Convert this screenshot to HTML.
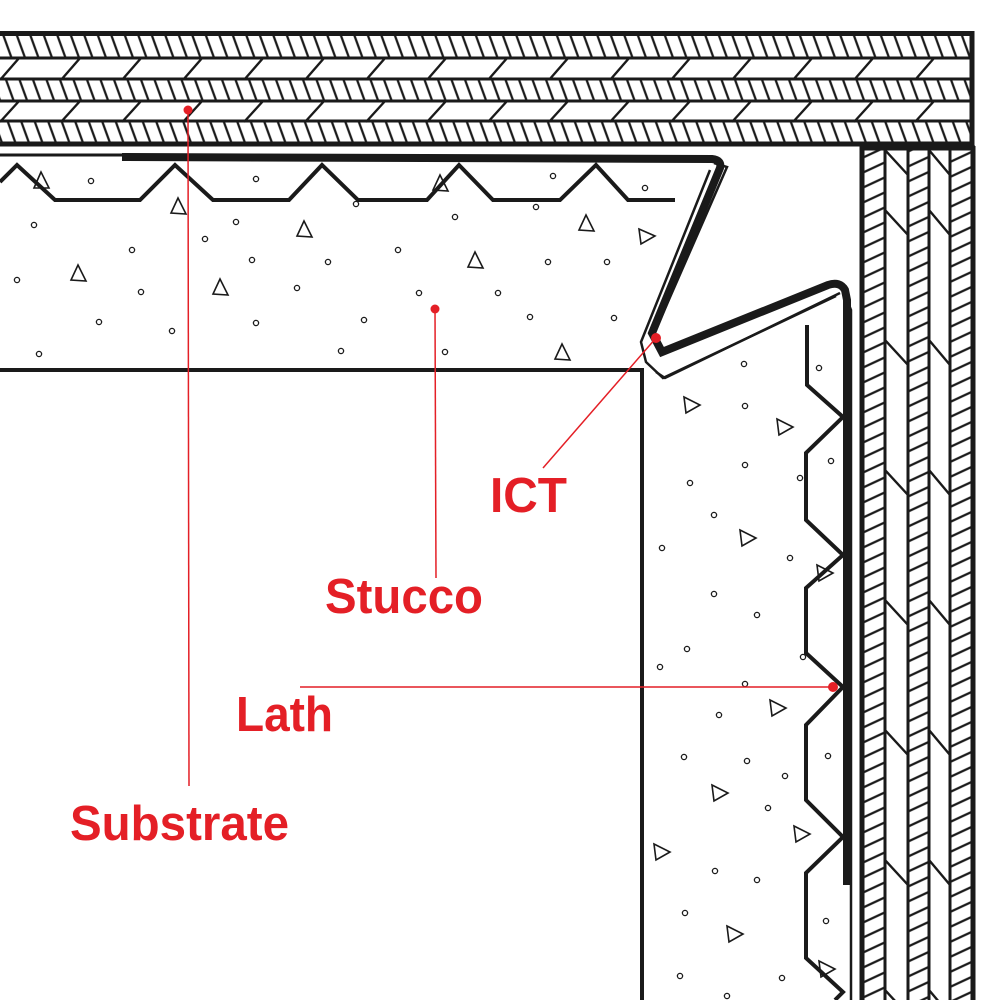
<!DOCTYPE html>
<html><head><meta charset="utf-8"><style>
html,body{margin:0;padding:0;background:#fff;}
svg{display:block;}
text{font-family:"Liberation Sans",sans-serif;font-weight:bold;fill:#e41f26;}
</style></head><body>
<svg width="1000" height="1000" viewBox="0 0 1000 1000" xmlns="http://www.w3.org/2000/svg">
<defs>
<pattern id="hh" x="0" y="0" width="13.5" height="100" patternUnits="userSpaceOnUse" patternTransform="skewX(20)">
<line x1="4" y1="0" x2="4" y2="100" stroke="#1a1a1a" stroke-width="2.4"/>
</pattern>
<pattern id="vh" x="0" y="0" width="100" height="15" patternUnits="userSpaceOnUse" patternTransform="skewY(-25)">
<line x1="0" y1="5" x2="100" y2="5" stroke="#1a1a1a" stroke-width="2.4"/>
</pattern>
<pattern id="hc" x="-4" y="0" width="61" height="200" patternUnits="userSpaceOnUse">
<line x1="24" y1="57" x2="4" y2="80" stroke="#1a1a1a" stroke-width="2.4"/>
<line x1="24" y1="100" x2="4" y2="122" stroke="#1a1a1a" stroke-width="2.4"/>
</pattern>
</defs>

<!-- top board -->
<rect x="0" y="57" width="972" height="66" fill="url(#hc)"/>
<rect x="0" y="79" width="972" height="22" fill="#fff"/>
<rect x="0" y="35" width="972" height="22" fill="url(#hh)"/>
<rect x="0" y="79" width="972" height="22" fill="url(#hh)"/>
<rect x="0" y="121" width="972" height="22" fill="url(#hh)"/>
<g stroke="#1a1a1a" fill="none">
<line x1="0" y1="33.5" x2="974" y2="33.5" stroke-width="5"/>
<line x1="0" y1="58" x2="972" y2="58" stroke-width="3"/>
<line x1="0" y1="79" x2="972" y2="79" stroke-width="3"/>
<line x1="0" y1="101" x2="972" y2="101" stroke-width="3"/>
<line x1="0" y1="121" x2="972" y2="121" stroke-width="3"/>
<line x1="0" y1="144" x2="974" y2="144" stroke-width="5"/>
<line x1="972" y1="31" x2="972" y2="146" stroke-width="5"/>
</g>

<!-- right board -->
<rect x="863" y="146" width="22" height="854" fill="url(#vh)"/>
<rect x="908" y="146" width="21" height="854" fill="url(#vh)"/>
<rect x="950" y="146" width="23" height="854" fill="url(#vh)"/>
<g stroke="#1a1a1a" stroke-width="2.4">
<line x1="885" y1="150" x2="908" y2="175"/>
<line x1="885" y1="210" x2="908" y2="235"/>
<line x1="885" y1="340" x2="908" y2="365"/>
<line x1="885" y1="470" x2="908" y2="495"/>
<line x1="885" y1="600" x2="908" y2="625"/>
<line x1="885" y1="730" x2="908" y2="755"/>
<line x1="885" y1="860" x2="908" y2="885"/>
<line x1="885" y1="990" x2="908" y2="1015"/>
<line x1="929" y1="150" x2="950" y2="175"/>
<line x1="929" y1="210" x2="950" y2="235"/>
<line x1="929" y1="340" x2="950" y2="365"/>
<line x1="929" y1="470" x2="950" y2="495"/>
<line x1="929" y1="600" x2="950" y2="625"/>
<line x1="929" y1="730" x2="950" y2="755"/>
<line x1="929" y1="860" x2="950" y2="885"/>
<line x1="929" y1="990" x2="950" y2="1015"/>
</g>
<g stroke="#1a1a1a" fill="none">
<line x1="862" y1="146" x2="862" y2="1000" stroke-width="5"/>
<line x1="885" y1="146" x2="885" y2="1000" stroke-width="3"/>
<line x1="908" y1="146" x2="908" y2="1000" stroke-width="3"/>
<line x1="929" y1="146" x2="929" y2="1000" stroke-width="3"/>
<line x1="950" y1="146" x2="950" y2="1000" stroke-width="3"/>
<line x1="973" y1="146" x2="973" y2="1000" stroke-width="5"/>
<line x1="860" y1="148" x2="975" y2="148" stroke-width="5"/>
</g>

<!-- stucco outlines -->
<g stroke="#1a1a1a" fill="none" stroke-linejoin="miter">
<line x1="0" y1="370" x2="642" y2="370" stroke-width="4"/>
<line x1="642" y1="368" x2="642" y2="1000" stroke-width="4"/>
<line x1="0" y1="155" x2="122" y2="155" stroke-width="3"/>
<polyline points="0,182 17,165 55,200 140,200 175,165 213,200 289,200 322,165 358,200 427,200 459,165 493,200 560,200 596,165 628,200 675,200" stroke-width="4"/>
<polyline points="807,325 807,385 843,417 806,453 806,520 843,555 806,588 806,653 843,687 806,725 806,800 843,837 806,873 806,958 843,992 835,1000" stroke-width="4"/>
<path d="M122,157 L712,159 Q722,160 720,168 L652,333 L662,352 L828,285 Q840,281 845,290 L847,300 L847,885" stroke-width="8"/>
<path d="M714,163 L727,167 L653,336 M710,170 L641,342 L646,362 L663,378 L836,296 M847,300 L851,310 L851,1000" stroke-width="2.5"/>
<path d="M656,372 L665,378 L840,293" stroke-width="2.5"/>
</g>

<g stroke="#1a1a1a" stroke-width="1.3" fill="#fff">
<circle cx="91" cy="181" r="2.6"/><circle cx="256" cy="179" r="2.6"/><circle cx="356" cy="204" r="2.6"/><circle cx="553" cy="176" r="2.6"/><circle cx="645" cy="188" r="2.6"/><circle cx="536" cy="207" r="2.6"/><circle cx="455" cy="217" r="2.6"/><circle cx="34" cy="225" r="2.6"/><circle cx="236" cy="222" r="2.6"/><circle cx="205" cy="239" r="2.6"/><circle cx="132" cy="250" r="2.6"/><circle cx="252" cy="260" r="2.6"/><circle cx="328" cy="262" r="2.6"/><circle cx="398" cy="250" r="2.6"/><circle cx="548" cy="262" r="2.6"/><circle cx="607" cy="262" r="2.6"/><circle cx="17" cy="280" r="2.6"/><circle cx="141" cy="292" r="2.6"/><circle cx="297" cy="288" r="2.6"/><circle cx="419" cy="293" r="2.6"/><circle cx="498" cy="293" r="2.6"/><circle cx="99" cy="322" r="2.6"/><circle cx="172" cy="331" r="2.6"/><circle cx="256" cy="323" r="2.6"/><circle cx="364" cy="320" r="2.6"/><circle cx="530" cy="317" r="2.6"/><circle cx="614" cy="318" r="2.6"/><circle cx="39" cy="354" r="2.6"/><circle cx="341" cy="351" r="2.6"/><circle cx="445" cy="352" r="2.6"/>
<circle cx="744" cy="364" r="2.6"/><circle cx="819" cy="368" r="2.6"/><circle cx="745" cy="406" r="2.6"/><circle cx="745" cy="465" r="2.6"/><circle cx="831" cy="461" r="2.6"/><circle cx="690" cy="483" r="2.6"/><circle cx="800" cy="478" r="2.6"/><circle cx="714" cy="515" r="2.6"/><circle cx="662" cy="548" r="2.6"/><circle cx="790" cy="558" r="2.6"/><circle cx="714" cy="594" r="2.6"/>
<circle cx="757" cy="615" r="2.6"/><circle cx="687" cy="649" r="2.6"/><circle cx="660" cy="667" r="2.6"/><circle cx="803" cy="657" r="2.6"/><circle cx="745" cy="684" r="2.6"/><circle cx="719" cy="715" r="2.6"/><circle cx="684" cy="757" r="2.6"/><circle cx="747" cy="761" r="2.6"/><circle cx="785" cy="776" r="2.6"/><circle cx="828" cy="756" r="2.6"/><circle cx="768" cy="808" r="2.6"/><circle cx="715" cy="871" r="2.6"/><circle cx="757" cy="880" r="2.6"/><circle cx="685" cy="913" r="2.6"/><circle cx="826" cy="921" r="2.6"/><circle cx="680" cy="976" r="2.6"/><circle cx="782" cy="978" r="2.6"/><circle cx="727" cy="996" r="2.6"/>
</g>
<g stroke="#1a1a1a" stroke-width="1.6" fill="none">
<path d="M41,172 L34,188 L49,188 Z"/><path d="M178,198 L171,213 L186,214 Z"/><path d="M304,221 L297,236 L312,237 Z"/><path d="M440,175 L433,190 L448,191 Z"/><path d="M586,215 L579,230 L594,231 Z"/><path d="M475,252 L468,267 L483,268 Z"/><path d="M78,265 L71,280 L86,281 Z"/><path d="M220,279 L213,294 L228,295 Z"/><path d="M562,344 L555,359 L570,360 Z"/>
<path d="M639,229 L655,236 L641,244 Z"/>
<path d="M684,397 L700,405 L686,413 Z"/><path d="M777,419 L793,427 L779,435 Z"/><path d="M740,530 L756,538 L742,546 Z"/><path d="M817,565 L833,573 L819,581 Z"/>
<path d="M770,700 L786,708 L772,716 Z"/><path d="M712,785 L728,793 L714,801 Z"/><path d="M794,826 L810,834 L796,842 Z"/><path d="M654,844 L670,852 L656,860 Z"/><path d="M727,926 L743,934 L729,942 Z"/><path d="M819,961 L835,969 L821,977 Z"/>
</g>

<g stroke="#e41f26" stroke-width="1.5">
<line x1="188" y1="110" x2="189" y2="786"/>
<line x1="435" y1="309" x2="436" y2="578"/>
<line x1="656" y1="338" x2="543" y2="468"/>
<line x1="300" y1="687" x2="833" y2="687"/>
</g>
<g fill="#e41f26">
<circle cx="188" cy="110" r="4.5"/>
<circle cx="435" cy="309" r="4.5"/>
<circle cx="656" cy="338" r="5"/>
<circle cx="833" cy="687" r="5"/>
</g>
<text x="490" y="512" font-size="49" textLength="77" lengthAdjust="spacingAndGlyphs">ICT</text>
<text x="325" y="613" font-size="49" textLength="158" lengthAdjust="spacingAndGlyphs">Stucco</text>
<text x="236" y="731" font-size="49" textLength="97" lengthAdjust="spacingAndGlyphs">Lath</text>
<text x="70" y="840" font-size="49" textLength="219" lengthAdjust="spacingAndGlyphs">Substrate</text>
</svg>
</body></html>
